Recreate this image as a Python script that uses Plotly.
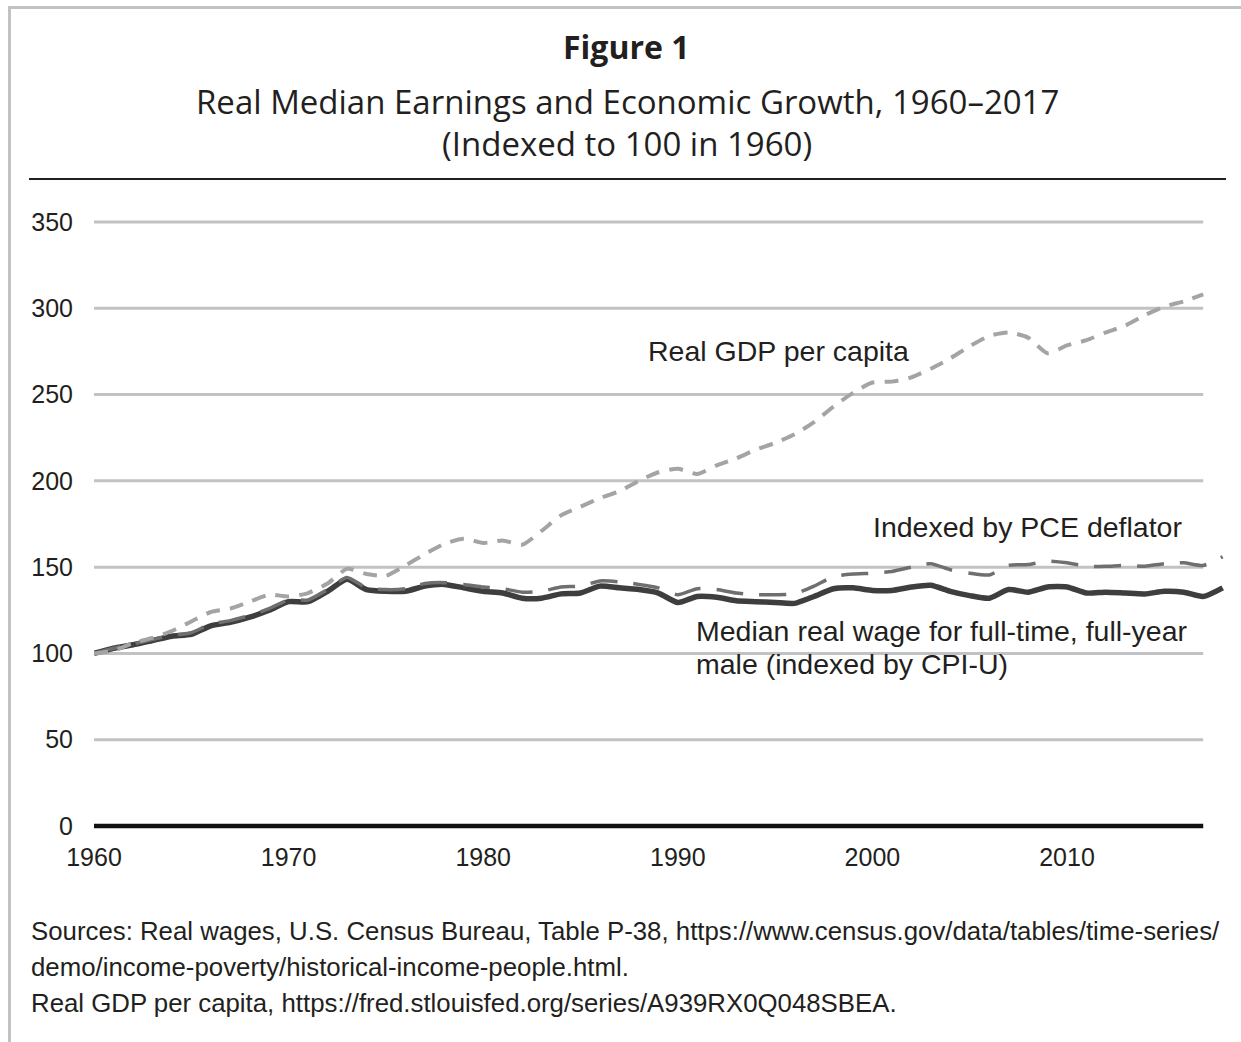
import plotly.graph_objects as go

# ---------------- data ----------------
years_gdp = list(range(1960, 2018))
years_wage = list(range(1960, 2019))

gdp_per_capita = [100, 101.5, 106, 109, 113, 118.5, 124, 126, 130, 134,
                  133, 135, 140.5, 149, 146, 145, 151, 157.5, 163.5, 166.5,
                  164, 165.5, 163, 171, 180, 185, 190, 194, 200, 205,
                  207, 204, 209, 213, 218, 222, 227, 234, 243, 251,
                  257, 257.5, 260, 265, 271, 278, 284, 286, 283, 274,
                  278.5, 281.5, 286, 290, 296, 301, 304, 308]

wage_pce = [100, 103, 105.5, 108, 110.5, 112, 117, 119, 122, 126,
            131, 131, 137, 144, 138, 137, 137.5, 140.5, 141, 140,
            138.5, 137.5, 135.5, 136, 138.5, 139, 142, 141.5, 140, 138,
            134, 137.5, 137, 135, 134, 134, 134.5, 139, 144.5, 146,
            146.5, 147.5, 150, 152, 148.5, 146.5, 145.5, 151, 151.5, 153.5,
            152.5, 150.5, 150.5, 151, 150.5, 152, 152.5, 151, 156]

wage_cpi = [100, 103, 105, 107.5, 110, 111, 116, 118, 121, 125,
            130, 130, 136, 143, 137, 136, 136, 139, 140, 138,
            136, 135, 132, 132, 134.5, 135, 139, 138, 137, 135,
            129.5, 133, 132.5, 130.5, 130, 129.5, 129, 133, 137.5, 138,
            136.5, 136.5, 138.5, 139.5, 136, 133.5, 132, 137, 135.5, 138.5,
            138.5, 135, 135.5, 135, 134.5, 136, 135.5, 133, 138]

y_ticks = [0, 50, 100, 150, 200, 250, 300, 350]
x_ticks = [1960, 1970, 1980, 1990, 2000, 2010]
x_end = 2017

title_text = "Figure 1"
subtitle_1 = "Real Median Earnings and Economic Growth, 1960\u20132017"
subtitle_2 = "(Indexed to 100 in 1960)"
label_gdp = "Real GDP per capita"
label_pce = "Indexed by PCE deflator"
label_wage_1 = "Median real wage for full-time, full-year"
label_wage_2 = "male (indexed by CPI-U)"
sources = [
    "Sources: Real wages, U.S. Census Bureau, Table P-38, https://www.census.gov/data/tables/time-series/",
    "demo/income-poverty/historical-income-people.html.",
    "Real GDP per capita, https://fred.stlouisfed.org/series/A939RX0Q048SBEA.",
]

# ---------------- layout geometry ----------------
W, H = 1241, 1042
ML, MR, MT, MB = 94, 9, 213, 208
PW, PH = W - ML - MR, H - MT - MB


def px_x(px):
    return (px - ML) / PW


def px_y(py):
    return (H - MB - py) / PH


TXT = "#231f20"
ARIAL = "Liberation Sans, Arial, sans-serif"
MYRIAD = "Open Sans, sans-serif"
SRC = "Liberation Sans, Arial, sans-serif"

fig = go.Figure()

fig.add_trace(go.Scatter(x=years_wage, y=wage_cpi, mode="lines",
                         line=dict(color="#3e3e3e", width=5.5, shape="spline", smoothing=0.6),
                         hoverinfo="skip", showlegend=False))
fig.add_trace(go.Scatter(x=years_wage, y=wage_pce, mode="lines",
                         line=dict(color="#6f6f6f", width=3.5, dash="27px,16px",
                                   shape="spline", smoothing=0.6),
                         hoverinfo="skip", showlegend=False))
fig.add_trace(go.Scatter(x=years_gdp, y=gdp_per_capita, mode="lines",
                         line=dict(color="#a4a4a4", width=4, dash="14px,10px",
                                   shape="spline", smoothing=0.6),
                         hoverinfo="skip", showlegend=False))

shapes = []
for t in y_ticks:
    if t == 0:
        continue
    shapes.append(dict(type="line", xref="x", yref="y", x0=x_ticks[0], x1=x_end,
                       y0=t, y1=t, line=dict(color="#c1c2c4", width=3), layer="below"))
shapes.append(dict(type="line", xref="x", yref="y", x0=x_ticks[0], x1=x_end,
                   y0=0, y1=0, line=dict(color="#111111", width=4.5), layer="above"))
shapes.append(dict(type="line", xref="paper", yref="paper", x0=px_x(29), x1=px_x(1226),
                   y0=px_y(179), y1=px_y(179), line=dict(color="#231f20", width=2)))
shapes.append(dict(type="line", xref="paper", yref="paper", x0=px_x(9.5), x1=px_x(9.5),
                   y0=px_y(6), y1=px_y(1060), line=dict(color="#c1c2c4", width=3)))
shapes.append(dict(type="line", xref="paper", yref="paper", x0=px_x(8), x1=px_x(1260),
                   y0=px_y(7.5), y1=px_y(7.5), line=dict(color="#c1c2c4", width=3)))

ann = []


def add_text(text, px, py, size, family, xanchor="left", bold=False):
    ann.append(dict(text=("<b>%s</b>" % text) if bold else text, xref="paper", yref="paper",
                    x=px_x(px), y=px_y(py), xanchor=xanchor, yanchor="middle",
                    showarrow=False, font=dict(size=size, family=family, color=TXT)))


add_text(title_text, 626, 47, 32, MYRIAD, xanchor="center", bold=True)
add_text(subtitle_1, 627, 101, 33, MYRIAD, xanchor="center")
add_text(subtitle_2, 627, 144, 33, MYRIAD, xanchor="center")
add_text(label_gdp, 646, 351, 28.5, ARIAL)
add_text(label_pce, 871, 527, 28.5, ARIAL)
add_text(label_wage_1, 694, 631, 28.5, ARIAL)
add_text(label_wage_2, 694, 664, 28.5, ARIAL)
for i, s in enumerate(sources):
    add_text(s, 29, 931 + 36 * i, 25.8, SRC)

fig.update_layout(
    width=W, height=H,
    margin=dict(l=ML, r=MR, t=MT, b=MB, pad=0),
    paper_bgcolor="white", plot_bgcolor="white",
    shapes=shapes, annotations=ann,
    xaxis=dict(range=[1960, 1960 + PW / 19.46], tickvals=x_ticks,
               ticktext=[str(v) for v in x_ticks], showgrid=False, zeroline=False,
               showline=False, ticks="", ticklabelstandoff=6,
               tickfont=dict(size=25, family=ARIAL, color=TXT)),
    yaxis=dict(range=[-8 / 1.72571, -8 / 1.72571 + PH / 1.72571], tickvals=y_ticks,
               ticktext=[str(v) for v in y_ticks], showgrid=False, zeroline=False,
               showline=False, ticks="", ticklabelstandoff=20,
               tickfont=dict(size=25, family=ARIAL, color=TXT)),
)

fig.write_html("out.html", config={"displayModeBar": False},
               post_script="document.body.style.margin='0';")
